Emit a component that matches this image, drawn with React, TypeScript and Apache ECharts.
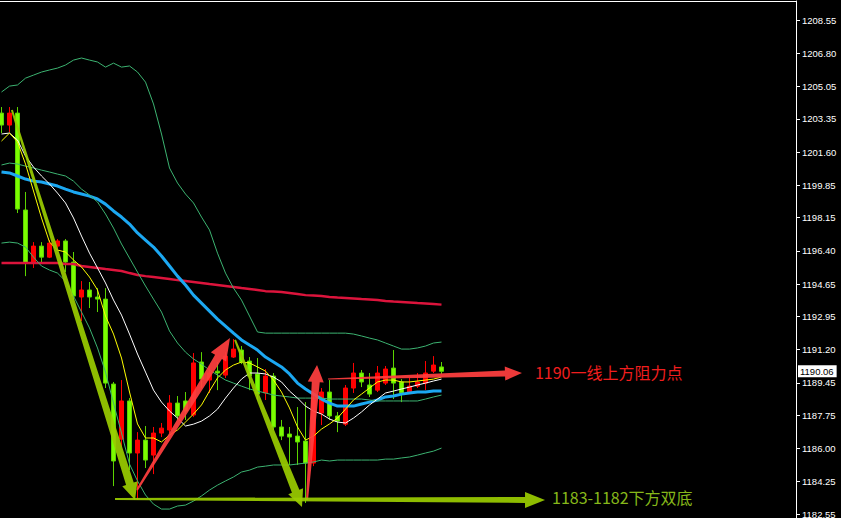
import React, { useEffect, useRef } from "react";
import * as echarts from "echarts";

// [open, close, low, high] per bar
const candles: number[][] = [
  [1203.65, 1203.02, 1202.6, 1203.97],
  [1203.02, 1203.65, 1202.65, 1203.97],
  [1203.65, 1198.6, 1198.39, 1203.97],
  [1198.55, 1195.76, 1195.07, 1199.5],
  [1195.76, 1196.65, 1195.5, 1196.86],
  [1196.65, 1196.07, 1195.81, 1196.86],
  [1196.07, 1196.81, 1196.02, 1196.97],
  [1196.65, 1196.92, 1196.39, 1197.02],
  [1196.92, 1195.81, 1195.28, 1197.02],
  [1195.81, 1194.02, 1193.81, 1196.34],
  [1193.97, 1194.34, 1192.71, 1194.81],
  [1194.34, 1193.97, 1193.39, 1194.76],
  [1193.97, 1193.86, 1193.18, 1194.44],
  [1193.86, 1189.44, 1189.18, 1194.44],
  [1189.39, 1185.34, 1184.02, 1189.5],
  [1186.49, 1188.5, 1186.07, 1189.6],
  [1188.5, 1185.76, 1184.86, 1188.65],
  [1185.76, 1186.44, 1183.29, 1186.86],
  [1186.44, 1185.39, 1184.97, 1187.18],
  [1185.65, 1186.81, 1184.65, 1187.13],
  [1186.81, 1187.07, 1186.6, 1187.34],
  [1186.97, 1188.39, 1186.81, 1188.81],
  [1188.39, 1187.71, 1187.5, 1188.76],
  [1188.5, 1187.97, 1187.5, 1188.97],
  [1187.76, 1190.5, 1187.65, 1191.02],
  [1190.55, 1189.65, 1189.18, 1191.07],
  [1189.6, 1189.97, 1188.92, 1190.34],
  [1190.07, 1189.97, 1189.07, 1190.55],
  [1189.86, 1190.86, 1189.71, 1191.07],
  [1190.81, 1191.23, 1190.76, 1191.76],
  [1191.18, 1190.55, 1190.44, 1191.39],
  [1190.6, 1189.81, 1189.07, 1190.81],
  [1189.92, 1188.86, 1188.55, 1190.76],
  [1188.92, 1189.81, 1188.55, 1190.18],
  [1189.81, 1187.13, 1186.97, 1189.97],
  [1187.13, 1186.65, 1186.44, 1187.5],
  [1186.76, 1186.6, 1185.13, 1187.13],
  [1186.65, 1186.34, 1185.13, 1188.18],
  [1186.39, 1185.23, 1183.13, 1188.44],
  [1185.23, 1188.55, 1185.07, 1188.97],
  [1187.86, 1188.97, 1187.23, 1189.18],
  [1188.97, 1187.71, 1187.5, 1189.6],
  [1187.71, 1187.44, 1186.86, 1187.92],
  [1187.28, 1189.18, 1187.18, 1189.34],
  [1189.18, 1189.97, 1188.92, 1190.5],
  [1189.97, 1189.5, 1189.23, 1190.13],
  [1189.34, 1188.86, 1188.71, 1189.97],
  [1189.07, 1189.97, 1188.97, 1190.34],
  [1189.44, 1190.18, 1189.34, 1190.34],
  [1190.23, 1189.44, 1188.6, 1191.18],
  [1189.5, 1188.92, 1188.44, 1189.65],
  [1188.97, 1189.28, 1188.92, 1189.71],
  [1189.28, 1189.5, 1189.18, 1189.97],
  [1189.44, 1189.97, 1189.07, 1190.6],
  [1190.07, 1190.39, 1189.97, 1190.86],
  [1190.29, 1190.06, 1189.92, 1190.55],
];

const maFast = [1202.18,1202.6,1202.13,1200.97,1199.55,1198.13,1196.86,1196.44,1196.34,1195.92,1195.55,1195.02,1194.34,1192.97,1192.02,1190.76,1188.97,1187.29,1186.55,1186.55,1186.34,1186.71,1186.97,1187.39,1187.81,1188.29,1189.02,1189.71,1190.13,1190.39,1190.55,1190.5,1190.29,1190.07,1189.6,1188.97,1188.13,1187.13,1186.44,1186.65,1187.02,1187.29,1187.6,1188.07,1188.55,1188.86,1189.18,1189.5,1189.6,1189.6,1189.5,1189.5,1189.55,1189.6,1189.65,1189.76];

const maMid = [1202.55,1202.6,1202.23,1201.39,1200.81,1200.34,1199.92,1199.44,1198.92,1198.13,1197.18,1196.28,1195.5,1194.71,1193.81,1193.02,1192.02,1190.97,1190.02,1189.07,1188.44,1187.97,1187.6,1187.18,1187.28,1187.44,1187.71,1188.07,1188.65,1189.18,1189.65,1189.97,1189.97,1189.92,1189.76,1189.5,1189.02,1188.65,1188.23,1187.97,1187.81,1187.55,1187.39,1187.34,1187.6,1187.92,1188.29,1188.6,1188.92,1189.02,1189.13,1189.23,1189.34,1189.44,1189.55,1189.65];

const maSlow = [1200.55,1200.5,1200.34,1200.18,1200.07,1200.02,1199.92,1199.81,1199.65,1199.5,1199.39,1199.28,1199.13,1198.86,1198.5,1198.18,1197.81,1197.34,1196.97,1196.6,1196.13,1195.6,1195.07,1194.6,1194.07,1193.65,1193.23,1192.81,1192.44,1192.07,1191.71,1191.44,1191.18,1190.81,1190.55,1190.29,1189.92,1189.44,1189.13,1188.86,1188.6,1188.39,1188.23,1188.23,1188.23,1188.34,1188.44,1188.55,1188.71,1188.76,1188.86,1188.92,1188.97,1188.97,1189.02,1189.02];

const maLong = [1195.76,1195.76,1195.76,1195.76,1195.76,1195.76,1195.76,1195.76,1195.71,1195.71,1195.6,1195.55,1195.5,1195.44,1195.39,1195.34,1195.23,1195.13,1195.07,1195.02,1194.97,1194.92,1194.86,1194.81,1194.76,1194.71,1194.65,1194.6,1194.55,1194.5,1194.44,1194.39,1194.34,1194.28,1194.26,1194.23,1194.18,1194.13,1194.07,1194.05,1194.02,1193.97,1193.94,1193.92,1193.89,1193.86,1193.84,1193.81,1193.76,1193.73,1193.71,1193.68,1193.65,1193.63,1193.6,1193.57];

const bbUpper = [1204.76,1205.07,1205.13,1205.49,1205.65,1205.81,1205.92,1206.02,1206.18,1206.44,1206.55,1206.44,1206.34,1206.07,1206.28,1206.07,1206.13,1205.81,1205.28,1204.13,1202.55,1200.76,1199.97,1199.39,1198.92,1198.18,1197.5,1196.28,1195.23,1194.44,1193.81,1192.97,1192.13,1192.07,1192.07,1192.07,1192.07,1192.07,1192.07,1192.07,1192.07,1192.07,1192.07,1192.07,1192.02,1191.92,1191.81,1191.71,1191.55,1191.39,1191.23,1191.23,1191.29,1191.39,1191.55,1191.6];

const bbMiddle = [1200.92,1201.02,1200.97,1200.86,1200.76,1200.65,1200.55,1200.44,1200.34,1200.07,1199.65,1199.34,1198.97,1198.34,1197.6,1196.76,1196.02,1195.28,1194.55,1193.86,1193.18,1192.18,1191.55,1191.07,1190.71,1190.44,1190.13,1189.86,1189.6,1189.44,1189.28,1189.13,1189.02,1188.92,1188.81,1188.76,1188.71,1188.65,1188.65,1188.65,1188.65,1188.6,1188.6,1188.6,1188.6,1188.6,1188.55,1188.5,1188.5,1188.5,1188.5,1188.5,1188.5,1188.6,1188.71,1188.81];

const bbLower = [1196.81,1196.86,1196.81,1196.6,1196.07,1195.6,1195.39,1195.23,1194.81,1194.02,1193.18,1192.34,1191.29,1190.02,1188.39,1186.81,1185.18,1184.29,1183.55,1183.07,1182.81,1182.81,1182.97,1183.02,1183.23,1183.5,1183.81,1184.07,1184.29,1184.5,1184.76,1184.86,1185.02,1185.07,1185.13,1185.13,1185.13,1185.18,1185.23,1185.29,1185.39,1185.34,1185.39,1185.39,1185.39,1185.39,1185.39,1185.39,1185.44,1185.44,1185.5,1185.55,1185.65,1185.76,1185.86,1186.02];

const yTicks = [1208.55,1206.8,1205.05,1203.35,1201.6,1199.85,1198.15,1196.4,1194.65,1192.95,1191.2,1189.45,1187.75,1186.0,1184.25,1182.55];
const lastPrice = 1190.06;

// annotation arrows in data coordinates [barIndex, price]
const arrowFrom: number[][] = [[1.3, 1203.81],[16.94, 1183.81],[29.19, 1191.71],[38.19, 1183.29],[40.81, 1189.65],[14.19, 1183.34]];
const arrowTo: number[][] = [[16.69, 1183.29],[28.56, 1191.81],[37.56, 1182.92],[39.44, 1190.39],[65.06, 1189.97],[67.94, 1183.29]];
const arrowKind = ["green", "red", "green", "red", "red", "green"];
const noteTexts = ["1190一线上方阻力点", "1183-1182下方双底"];
const noteArrow = [4, 5];

// styles (pixels)
const arrowShape = [
  { w0: 2, w1: 8, L: 17, H: 8 },
  { w0: 2, w1: 8, L: 22, H: 9 },
  { w0: 2, w1: 8, L: 17, H: 8 },
  { w0: 2, w1: 8, L: 17, H: 8 },
  { w0: 1, w1: 6, L: 17, H: 7 },
  { w0: 2, w1: 6, L: 20, H: 8 },
];
const arrowColors: Record<string, string> = { green: "rgba(154,204,0,0.92)", red: "rgba(255,62,62,0.93)" };
const noteColors = ["#F01E1E", "#86B81A"];
const noteOffset = [[13, -1], [7, -3]];

const toPairs = (arr: number[]) => arr.map((v, i) => [i, v]);

export default function App() {
  const ref = useRef<HTMLDivElement>(null);
  useEffect(() => {
    document.body.style.margin = "0";
    document.body.style.background = "#000";
    const chart = echarts.init(ref.current!, null, { renderer: "svg" });
    const line = (data: number[], color: string, width: number, z = 3) => ({
      type: "line",
      data: toPairs(data),
      symbol: "none",
      showSymbol: false,
      silent: true,
      z,
      lineStyle: { color, width },
    });
    chart.setOption({
      animation: false,
      backgroundColor: "#000",
      grid: { left: 0, right: 45, top: 1, bottom: 0, containLabel: false, outerBoundsMode: "none" },
      xAxis: {
        type: "value",
        min: -0.1875,
        max: 99.3125,
        position: "top",
        axisLine: { show: true, onZero: false, lineStyle: { color: "#fff", width: 1 } },
        axisTick: { show: false },
        axisLabel: { show: false },
        splitLine: { show: false },
      },
      yAxis: {
        type: "value",
        position: "right",
        min: 1182.34,
        max: 1209.55,
        axisLine: { show: true, onZero: false, lineStyle: { color: "#fff", width: 1 } },
        axisTick: { show: true, customValues: yTicks, length: 4, lineStyle: { color: "#fff" } },
        axisLabel: {
          customValues: yTicks,
          formatter: (v: number) => v.toFixed(2),
          color: "#fff",
          fontSize: 9.5,
          fontFamily: "Liberation Sans",
          margin: 6,
        },
        splitLine: { show: false },
      },
      series: [
        {
          type: "candlestick",
          data: candles.map((c, i) => [i, ...c]),
          barWidth: 5,
          z: 2,
          silent: true,
          itemStyle: {
            color: "#FF0000",
            color0: "#7CFC00",
            borderColor: "#FF0000",
            borderColor0: "#5CD400",
            borderWidth: 1,
          },
          markLine: {
            silent: true,
            symbol: "none",
            z: 20,
            data: [{ yAxis: lastPrice }],
            lineStyle: { color: "rgba(0,0,0,0)", width: 1, type: "solid" },
            label: {
              show: true,
              position: "end",
              distance: 2,
              formatter: lastPrice.toFixed(2),
              backgroundColor: "#ffffff",
              color: "#000000",
              padding: [1, 3, 1, 2],
              fontSize: 9.5,
              fontFamily: "Liberation Sans",
            },
          },
        },
        line(maLong, "#DC143C", 2.5),
        line(maSlow, "#1CA8F2", 3),
        line(bbUpper, "#3CB371", 1),
        line(bbMiddle, "#3CB371", 1),
        line(bbLower, "#3CB371", 1),
        line(maMid, "#FFFFFF", 1, 4),
        line(maFast, "#FFFF00", 1, 5),
      ],
    });

    const px = (p: number[]) => chart.convertToPixel({ gridIndex: 0 }, p) as number[];
    const elements: any[] = [];
    const tips: number[][] = [];
    arrowFrom.forEach((f, i) => {
      const S = px(f);
      const T = px(arrowTo[i]);
      tips.push(T);
      const dx = T[0] - S[0];
      const dy = T[1] - S[1];
      const len = Math.hypot(dx, dy);
      const ux = dx / len, uy = dy / len;
      const nx = -uy, ny = ux;
      const { w0, w1, L, H } = arrowShape[i];
      const B = [T[0] - ux * L, T[1] - uy * L];
      const pts = [
        [S[0] + nx * w0 / 2, S[1] + ny * w0 / 2],
        [B[0] + nx * w1 / 2, B[1] + ny * w1 / 2],
        [B[0] + nx * H, B[1] + ny * H],
        [T[0], T[1]],
        [B[0] - nx * H, B[1] - ny * H],
        [B[0] - nx * w1 / 2, B[1] - ny * w1 / 2],
        [S[0] - nx * w0 / 2, S[1] - ny * w0 / 2],
      ];
      elements.push({
        type: "polygon",
        silent: true,
        z: 100,
        shape: { points: pts },
        style: { fill: arrowColors[arrowKind[i]] },
      });
    });
    noteTexts.forEach((t, i) => {
      const T = tips[noteArrow[i]];
      elements.push({
        type: "text",
        silent: true,
        z: 101,
        x: T[0] + noteOffset[i][0],
        y: T[1] + noteOffset[i][1],
        style: {
          text: t,
          fill: noteColors[i],
          fontSize: 16,
          fontFamily: "Noto Sans CJK SC",
          verticalAlign: "middle",
          align: "left",
        },
      });
    });
    chart.setOption({ graphic: { elements } });
    return () => chart.dispose();
  }, []);
  return (
    <div
      ref={ref}
      style={{ position: "fixed", left: 0, top: 0, width: 841, height: 518, background: "#000" }}
    />
  );
}
